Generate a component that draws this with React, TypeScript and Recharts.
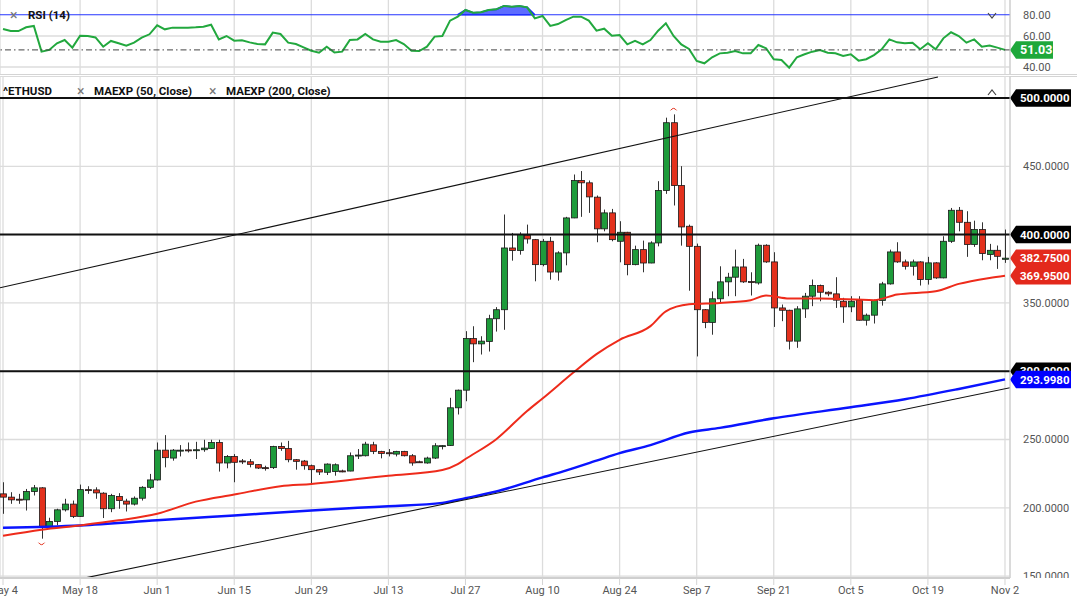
import React from "react";
import {
  ComposedChart,
  Bar,
  Line,
  Area,
  XAxis,
  YAxis,
  CartesianGrid,
  ReferenceLine,
  ReferenceDot,
} from "recharts";

const FONT = 'Roboto, "Open Sans", Arial, sans-serif';

// x axis: one slot per trading day (weekdays), labels every other Monday
const TICK_IDX = [0, 10, 20, 30, 40, 50, 60, 70, 80, 90, 100, 110, 120, 130];
const TICK_LABELS = [
  "May 4", "May 18", "Jun 1", "Jun 15", "Jun 29", "Jul 13", "Jul 27",
  "Aug 10", "Aug 24", "Sep 7", "Sep 21", "Oct 5", "Oct 19", "Nov 2",
];
const X_MIN = -0.39;
const X_MAX = 130.65;

const PRICE_TICKS = [150, 200, 250, 300, 350, 400, 450, 500];
const PRICE_DOMAIN = [148.6, 516.1];
const LEVELS = [500, 400, 300];

const RSI_TICKS = [40, 60, 80];
const RSI_GRID = [40, 60];
const RSI_DOMAIN = [35.48, 83.23];
const OVERBOUGHT = 73.7;

const OPEN = [
  210.2, 207.8, 206.3, 205.8, 211.9, 214.6, 186.4, 190.0, 198.5, 202.7,
  193.7, 213.3, 213.1, 210.7, 199.3, 208.3, 204.9, 202.7, 207.0, 215.0,
  220.4, 242.2, 236.4, 242.0, 242.4, 242.2, 242.5, 243.4, 247.8, 232.8,
  237.6, 234.3, 233.7, 231.6, 229.4, 229.4, 244.9, 243.4, 235.2, 234.2,
  230.8, 227.9, 226.0, 226.5, 227.0, 226.9, 238.1, 238.1, 246.1, 241.3,
  240.3, 239.3, 241.3, 238.1, 233.7, 232.8, 236.4, 245.0, 245.6, 273.2,
  286.1, 323.9, 320.0, 321.8, 338.4, 345.0, 390.2, 388.3, 399.5, 396.3,
  378.0, 395.1, 372.6, 386.6, 412.2, 439.6, 437.9, 427.4, 404.2, 415.9,
  395.1, 401.7, 378.0, 389.0, 379.2, 393.9, 432.3, 481.9, 435.9, 406.1,
  391.4, 345.0, 335.7, 353.0, 365.4, 368.8, 376.3, 365.6, 364.6, 392.2,
  380.0, 346.3, 344.6, 322.0, 345.6, 354.9, 362.7, 357.8, 356.6, 351.2,
  347.1, 352.0, 337.3, 341.0, 351.7, 363.9, 387.3, 380.0, 376.8, 380.0,
  367.1, 379.3, 368.3, 395.1, 417.8, 409.0, 392.7, 403.7, 385.4, 388.5,
  381.9,
];
const HIGH = [
  218.7, 211.4, 210.2, 213.8, 216.7, 215.1, 192.7, 199.3, 206.6, 205.3,
  217.0, 215.8, 215.0, 211.4, 210.2, 210.7, 206.6, 208.3, 215.8, 224.8,
  247.8, 253.2, 243.0, 245.9, 247.8, 248.3, 249.8, 249.8, 249.8, 238.6,
  239.3, 235.7, 235.7, 232.0, 230.8, 245.4, 247.8, 249.0, 235.7, 235.0,
  231.6, 228.4, 232.5, 232.5, 227.9, 240.5, 243.0, 248.3, 248.3, 241.7,
  243.0, 241.7, 241.7, 239.3, 234.5, 237.4, 247.3, 245.8, 280.5, 286.5,
  329.3, 332.9, 325.6, 341.3, 346.9, 414.7, 401.2, 401.7, 407.3, 396.8,
  396.8, 398.3, 387.8, 413.0, 444.0, 446.5, 439.6, 428.6, 418.3, 418.8,
  409.8, 402.0, 391.9, 395.6, 395.1, 439.1, 485.6, 488.0, 450.1, 407.3,
  393.4, 345.5, 358.4, 376.8, 372.0, 389.0, 382.2, 372.4, 393.4, 392.9,
  387.1, 348.8, 345.0, 347.6, 357.3, 367.1, 363.4, 358.5, 368.8, 353.7,
  354.9, 354.9, 342.2, 352.4, 365.4, 389.0, 394.4, 381.7, 381.7, 380.5,
  383.7, 379.8, 398.8, 419.5, 420.2, 417.1, 410.2, 409.0, 393.2, 392.0,
  403.7,
];
const LOW = [
  195.6, 202.9, 202.9, 198.0, 209.0, 177.4, 184.7, 187.1, 197.3, 192.5,
  193.5, 210.2, 206.6, 192.5, 196.8, 199.3, 197.3, 201.7, 205.3, 213.8,
  219.9, 229.6, 234.5, 237.6, 240.5, 235.7, 241.0, 243.0, 226.5, 228.9,
  218.7, 232.0, 229.6, 228.4, 227.2, 228.4, 241.7, 233.3, 227.9, 227.9,
  217.0, 224.0, 224.0, 223.5, 226.0, 226.7, 235.7, 237.6, 239.3, 236.2,
  237.6, 237.6, 237.6, 230.8, 232.8, 232.3, 235.7, 242.7, 245.3, 268.3,
  278.0, 306.6, 312.2, 314.4, 329.0, 330.3, 380.9, 385.3, 393.4, 365.8,
  376.8, 367.0, 366.3, 377.5, 412.0, 413.0, 415.9, 394.4, 402.4, 395.1,
  379.7, 370.2, 377.5, 372.4, 379.0, 391.4, 429.8, 421.3, 391.9, 358.9,
  310.8, 331.5, 326.7, 350.0, 354.9, 354.9, 364.6, 355.4, 363.4, 379.3,
  332.4, 336.6, 315.9, 317.1, 339.0, 347.6, 351.2, 354.9, 346.3, 335.4,
  343.2, 337.0, 333.4, 334.9, 348.0, 363.4, 379.3, 374.4, 370.0, 362.7,
  363.4, 367.6, 368.0, 393.9, 402.4, 383.7, 391.0, 381.2, 381.2, 374.9,
  379.3,
];
const CLOSE = [
  207.8, 205.8, 205.8, 211.9, 214.6, 186.4, 190.0, 198.5, 202.7, 193.7,
  213.3, 213.0, 210.9, 199.3, 209.0, 205.3, 202.7, 207.0, 215.0, 220.4,
  242.2, 236.7, 242.2, 242.2, 242.2, 242.5, 243.7, 247.8, 232.8, 237.6,
  233.3, 234.0, 231.8, 229.1, 229.1, 244.9, 243.4, 235.2, 234.0, 230.8,
  227.9, 226.2, 232.0, 231.5, 226.9, 238.1, 238.6, 246.6, 241.3, 239.8,
  240.0, 241.3, 238.1, 232.8, 233.5, 236.4, 245.4, 245.5, 273.2, 286.1,
  323.9, 320.0, 322.0, 338.4, 345.0, 390.2, 388.3, 400.0, 396.8, 378.0,
  395.1, 372.6, 386.6, 412.2, 439.6, 437.9, 427.6, 404.2, 415.9, 396.3,
  401.7, 378.0, 389.0, 379.2, 393.9, 432.3, 481.9, 435.9, 405.6, 391.4,
  345.0, 335.7, 353.0, 365.4, 368.8, 376.3, 365.4, 365.4, 392.2, 380.0,
  346.3, 344.6, 322.0, 345.6, 354.9, 362.7, 357.8, 356.6, 352.0, 347.1,
  351.2, 337.3, 341.0, 351.7, 363.9, 387.3, 380.0, 376.8, 380.0, 367.1,
  379.3, 368.3, 395.1, 417.8, 409.0, 392.7, 403.7, 386.1, 388.5, 384.1,
  382.75,
];

const RSI = [
  64.5, 63.2, 63.2, 65.6, 66.5, 49.9, 51.0, 55.3, 57.4, 52.5,
  60.2, 60.0, 59.1, 53.1, 56.8, 55.3, 53.8, 55.7, 58.9, 61.1,
  66.9, 64.3, 65.4, 65.4, 65.4, 65.6, 66.0, 67.3, 57.8, 60.0,
  57.0, 57.2, 55.9, 54.8, 54.6, 62.2, 61.3, 55.7, 54.8, 52.7,
  50.5, 49.2, 53.1, 49.4, 49.9, 57.4, 57.8, 61.3, 57.8, 56.3,
  56.3, 57.4, 54.8, 50.5, 50.3, 53.1, 59.6, 60.0, 69.9, 72.5,
  76.8, 75.0, 75.3, 76.8, 77.2, 79.4, 78.9, 79.4, 78.5, 71.4,
  72.9, 66.5, 67.7, 70.3, 72.5, 72.5, 69.9, 63.4, 64.7, 60.2,
  60.6, 54.6, 56.8, 54.6, 57.4, 63.4, 68.2, 60.0, 54.6, 51.6,
  43.9, 42.4, 46.3, 48.8, 49.2, 50.3, 48.8, 48.8, 54.2, 52.1,
  45.0, 44.5, 39.6, 46.3, 48.2, 49.9, 51.0, 49.2, 48.8, 47.1,
  48.2, 44.1, 45.0, 47.7, 51.4, 57.8, 55.9, 55.3, 55.7, 51.4,
  55.3, 51.4, 58.5, 62.4, 60.0, 55.7, 57.8, 53.1, 53.8, 52.5,
  51.03,
];

// moving averages at a few points
const EMA50_IDX = [0, 5, 10, 15, 20, 25, 30, 36, 40, 46, 50, 57, 59, 60, 64, 68, 70, 74, 77, 80, 84, 86, 89, 93, 97, 99, 102, 106, 113, 116, 121, 124, 128, 130];
const EMA50_VAL = [179.5, 184.0, 187.1, 190.8, 195.6, 204.5, 209.7, 215.8, 217.5, 221.0, 223.5, 227.7, 232.0, 235.7, 250.2, 270.9, 280.0, 299.0, 312.5, 323.0, 333.0, 343.8, 349.0, 350.0, 352.0, 355.4, 353.2, 353.2, 352.0, 356.1, 358.5, 363.9, 368.3, 369.95];
const EMA200_IDX = [0, 10, 20, 30, 40, 46, 50, 57, 60, 64, 70, 73, 77, 80, 84, 89, 93, 100, 110, 117, 124, 130];
const EMA200_VAL = [185.4, 187.1, 190.8, 194.4, 198.0, 200.0, 201.2, 203.6, 207.0, 211.9, 222.3, 227.2, 234.5, 240.0, 245.9, 255.1, 258.5, 265.5, 273.6, 279.5, 287.0, 293.998];

const UPPER_TREND = [{ x: -0.39, y: 361.1 }, { x: 121.3, y: 515.4 }];
const LOWER_TREND = [{ x: 10.86, y: 148.9 }, { x: 130.65, y: 287.9 }];

const GREEN = "#1e9b3b";
const RED = "#e3311d";
const EMA50_COLOR = "#ee2b1b";
const EMA200_COLOR = "#0a14ff";
const GRID = "#dcdcdc";

const last = OPEN.length - 1;
const ema50Map = new Map(EMA50_IDX.map((k, j) => [k, EMA50_VAL[j]]));
const ema200Map = new Map(EMA200_IDX.map((k, j) => [k, EMA200_VAL[j]]));
const over = (k: number) => RSI[k] !== undefined && RSI[k] > OVERBOUGHT;

const rows = OPEN.map((o, i) => ({
  i,
  open: o,
  high: HIGH[i],
  low: LOW[i],
  close: CLOSE[i],
  range: [LOW[i], HIGH[i]],
  ema50: ema50Map.has(i) ? ema50Map.get(i) : null,
  ema200: ema200Map.has(i) ? ema200Map.get(i) : null,
  rsi: RSI[i],
  rsiHi: over(i) || over(i - 1) || over(i + 1) ? [OVERBOUGHT, Math.max(RSI[i], OVERBOUGHT)] : null,
}));

const hiIdx = HIGH.indexOf(Math.max(...HIGH));
const loIdx = LOW.indexOf(Math.min(...LOW));

function Candle(props: any) {
  const { x, y, width, height, payload } = props;
  if (!payload || x == null) return null;
  const { open, close, high, low } = payload;
  const top = Math.min(y, y + height);
  const bottom = Math.max(y, y + height);
  const k = (bottom - top) / (high - low || 1);
  const yOf = (v: number) => top + (high - v) * k;
  const cx = Math.round(x + width / 2) + 0.5;
  const up = close >= open;
  const bTop = yOf(Math.max(open, close));
  const bBot = yOf(Math.min(open, close));
  return (
    <g>
      <line x1={cx} x2={cx} y1={top} y2={bottom} stroke="#333" strokeWidth={1} />
      <rect
        x={cx - 3}
        y={bTop}
        width={6}
        height={Math.max(1, bBot - bTop)}
        fill={up ? GREEN : RED}
        stroke="#1a1a1a"
        strokeWidth={0.8}
      />
    </g>
  );
}

function Tag({ x, y, text, fill, w = 61, size = 11.5 }: any) {
  const h = 17.5;
  const tip = 6;
  return (
    <g>
      <polygon
        points={`${x},${y} ${x + tip},${y - h / 2} ${x + w},${y - h / 2} ${x + w},${y + h / 2} ${x + tip},${y + h / 2}`}
        fill={fill}
      />
      <text x={x + 10} y={y} dy="0.36em" fill="#fff" fontSize={size} fontWeight={700} fontFamily={FONT}>
        {text}
      </text>
    </g>
  );
}

const tagLabel = (text: string, fill: string, w?: number, size?: number) => (p: any) => {
  const vb = p.viewBox || {};
  return <Tag x={vb.x + vb.width} y={vb.y} text={text} fill={fill} w={w} size={size} />;
};

function PriceTick(props: any) {
  const { x, y, payload } = props;
  // levels carry their own tag, which hides the plain label
  if (LEVELS.includes(payload.value)) return <g />;
  const plotBottom = 502;
  const h = Math.max(0, Math.min(18, plotBottom - (y - 9)));
  return (
    <svg x={x} y={y - 9} width={67} height={h} overflow="hidden">
      <text x={11} y={9} dy="0.36em" fill="#555" fontSize={11} fontFamily={FONT}>
        {Number(payload.value).toFixed(4)}
      </text>
    </svg>
  );
}

function RsiTick(props: any) {
  const { x, y, payload } = props;
  return (
    <text x={x + 11} y={Math.max(y, 14.7)} dy="0.36em" fill="#555" fontSize={11} fontFamily={FONT}>
      {Number(payload.value).toFixed(2)}
    </text>
  );
}

const Arc = ({ cx, cy, dir }: any) =>
  cx == null ? null : (
    <path
      d={dir < 0
        ? `M${cx - 3},${cy - 4} Q${cx},${cy - 8} ${cx + 3},${cy - 4}`
        : `M${cx - 3},${cy + 4} Q${cx},${cy + 8} ${cx + 3},${cy + 4}`}
      stroke={RED}
      strokeWidth={1}
      fill="none"
    />
  );

const labelStyle: React.CSSProperties = {
  position: "absolute",
  fontFamily: FONT,
  fontSize: 11.5,
  fontWeight: 700,
  color: "#111",
  whiteSpace: "nowrap",
  lineHeight: "14px",
};
const crossStyle: React.CSSProperties = {
  position: "absolute",
  fontFamily: FONT,
  fontSize: 14,
  color: "#777",
  lineHeight: "14px",
};

function Chevron({ x, y, down }: any) {
  return (
    <svg style={{ position: "absolute", left: x - 5, top: y - 4 }} width={10} height={8}>
      <polyline
        points={down ? "1,1 5,6 9,1" : "1,6 5,1 9,6"}
        fill="none"
        stroke="#444"
        strokeWidth={1.2}
      />
    </svg>
  );
}

export default function App() {
  const fmtX = (v: number) => {
    const k = TICK_IDX.indexOf(v);
    return k >= 0 ? TICK_LABELS[k] : "";
  };
  return (
    <div
      style={{
        position: "absolute",
        left: 0,
        top: 0,
        width: 1077,
        height: 604,
        background: "#fff",
        overflow: "hidden",
        fontFamily: FONT,
      }}
    >
      {/* RSI panel */}
      <div style={{ position: "absolute", left: 0, top: 0 }}>
        <ComposedChart width={1077} height={74} data={rows} margin={{ top: 0, right: 0, bottom: 0, left: 0 }}>
          <CartesianGrid horizontal={false} stroke={GRID} strokeWidth={1.3} />
          <XAxis type="number" dataKey="i" domain={[X_MIN, X_MAX]} allowDataOverflow ticks={TICK_IDX} hide />
          <YAxis
            orientation="right"
            width={67}
            domain={RSI_DOMAIN}
            allowDataOverflow
            ticks={RSI_TICKS}
            interval={0}
            tickLine={false}
            tickSize={0}
            axisLine={{ stroke: "#ccc" }}
            tick={(p: any) => <RsiTick {...p} />}
          />
          {RSI_GRID.map((v) => (
            <ReferenceLine key={v} y={v} stroke={GRID} strokeWidth={1.3} />
          ))}
          <ReferenceLine y={OVERBOUGHT} stroke="#2434ff" strokeWidth={1.2} />
          <Line
            dataKey="rsi"
            type="linear"
            stroke="#22a83e"
            strokeWidth={2}
            dot={false}
            activeDot={false}
            isAnimationActive={false}
          />
          <Area
            dataKey="rsiHi"
            type="linear"
            stroke="#1626ff"
            strokeWidth={1.6}
            fill="#4b5cff"
            fillOpacity={0.9}
            connectNulls={false}
            dot={false}
            activeDot={false}
            isAnimationActive={false}
          />
          <ReferenceLine
            y={RSI[last]}
            stroke="#444"
            strokeWidth={1}
            strokeDasharray="6 3 1.5 3"
            label={tagLabel(RSI[last].toFixed(2), "#1ea83b", 43, 12.5)}
          />
        </ComposedChart>
      </div>

      {/* panel separator */}
      <div
        style={{
          position: "absolute",
          left: 0,
          top: 74,
          width: 1077,
          height: 1,
          borderTop: "1px solid #d4d4d4",
          borderBottom: "1px solid #d4d4d4",
        }}
      />

      {/* price panel */}
      <div style={{ position: "absolute", left: 0, top: 76 }}>
        <ComposedChart width={1077} height={528} data={rows} margin={{ top: 0, right: 0, bottom: 0, left: 0 }}>
          <CartesianGrid stroke={GRID} strokeWidth={1.3} />
          <XAxis
            type="number"
            dataKey="i"
            domain={[X_MIN, X_MAX]}
            allowDataOverflow
            ticks={TICK_IDX}
            interval={0}
            tickFormatter={fmtX}
            height={26}
            axisLine={{ stroke: "#cfcfcf", strokeWidth: 2 }}
            tickLine={{ stroke: "#d4d4d4" }}
            tickSize={7}
            tickMargin={1}
            tick={{ fontSize: 11, fill: "#555", fontFamily: FONT }}
          />
          <YAxis
            orientation="right"
            width={67}
            domain={PRICE_DOMAIN}
            allowDataOverflow
            ticks={PRICE_TICKS}
            interval={0}
            tickLine={false}
            tickSize={0}
            axisLine={{ stroke: "#ccc" }}
            tick={(p: any) => <PriceTick {...p} />}
          />
          <Line
            dataKey="ema200"
            type="monotone"
            stroke={EMA200_COLOR}
            strokeWidth={2.5}
            dot={false}
            activeDot={false}
            connectNulls
            isAnimationActive={false}
          />
          <Line
            dataKey="ema50"
            type="monotone"
            stroke={EMA50_COLOR}
            strokeWidth={2}
            dot={false}
            activeDot={false}
            connectNulls
            isAnimationActive={false}
          />
          <Bar dataKey="range" barSize={6} shape={Candle} isAnimationActive={false} />
          <ReferenceLine segment={UPPER_TREND} stroke="#111" strokeWidth={1.1} ifOverflow="hidden" />
          <ReferenceLine segment={LOWER_TREND} stroke="#111" strokeWidth={1.1} ifOverflow="hidden" />
          {LEVELS.map((v) => (
            <ReferenceLine
              key={v}
              y={v}
              stroke="#111"
              strokeWidth={2}
              label={tagLabel(v.toFixed(4), "#000")}
            />
          ))}
          <ReferenceLine
            y={CLOSE[last]}
            stroke="none"
            strokeOpacity={0}
            label={tagLabel(CLOSE[last].toFixed(4), "#e3291c")}
          />
          <ReferenceLine
            y={EMA50_VAL[EMA50_VAL.length - 1]}
            stroke="none"
            strokeOpacity={0}
            label={tagLabel(EMA50_VAL[EMA50_VAL.length - 1].toFixed(4), "#e3291c")}
          />
          <ReferenceLine
            y={EMA200_VAL[EMA200_VAL.length - 1]}
            stroke="none"
            strokeOpacity={0}
            label={tagLabel(EMA200_VAL[EMA200_VAL.length - 1].toFixed(4), "#0000ff")}
          />
          <ReferenceDot x={hiIdx} y={HIGH[hiIdx]} r={0} shape={(p: any) => <Arc {...p} dir={-1} />} />
          <ReferenceDot x={loIdx} y={LOW[loIdx]} r={0} shape={(p: any) => <Arc {...p} dir={1} />} />
        </ComposedChart>
      </div>

      {/* panel titles */}
      <span style={{ ...crossStyle, left: 10, top: 8 }}>×</span>
      <span style={{ ...labelStyle, left: 28, top: 8 }}>RSI (14)</span>
      <span style={{ ...labelStyle, left: 3, top: 84 }}>^ETHUSD</span>
      <span style={{ ...crossStyle, left: 77, top: 84 }}>×</span>
      <span style={{ ...labelStyle, left: 94, top: 84 }}>MAEXP (50, Close)</span>
      <span style={{ ...crossStyle, left: 209, top: 84 }}>×</span>
      <span style={{ ...labelStyle, left: 226, top: 84 }}>MAEXP (200, Close)</span>
      <Chevron x={992} y={16} down />
      <Chevron x={992} y={93} />
    </div>
  );
}
